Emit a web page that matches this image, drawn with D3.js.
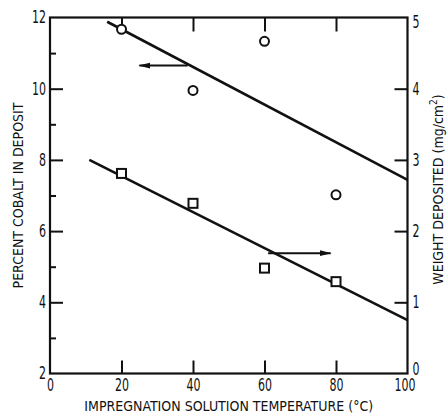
<!DOCTYPE html>
<html>
<head>
<meta charset="utf-8">
<script src="https://cdn.jsdelivr.net/npm/d3@7"></script>
<style>
  body { margin:0; background:#fff; }
  svg { display:block; }
  .axis text { font-family:"DejaVu Sans Condensed","Liberation Sans Narrow",sans-serif; font-size:17px; fill:#111;
               transform-box:fill-box; transform:scaleX(0.72); }
  .axis.left text { transform-origin:right center; }
  .axis.right text { transform-origin:left center; }
  .axis.bottom text { transform-origin:center center; }
  .axis path { display:none; }
  .axis line { stroke:#111; stroke-width:2; }
  .title { font-family:"DejaVu Sans Condensed","Liberation Sans Narrow",sans-serif; font-size:14px; fill:#111; }
</style>
</head>
<body>
<svg></svg>
<script>

// data
var temps = [20, 40, 60, 80];
var cobaltPct = [11.67, 9.95, 11.33, 7.02];   // circles, left axis
var weightDep = [2.81, 2.39, 1.48, 1.29];     // squares, right axis

var cobaltFitX = [16, 100];
var cobaltFitY = [11.88, 7.44];
var weightFitX = [11, 100];
var weightFitY = [3.0, 0.75];

// arrows: [x from, x to, y]
var cobaltArrow = [38.5, 25, 10.65];
var weightArrow = [61, 78.5, 1.69];

var xTicks = [0, 20, 40, 60, 80, 100];
var leftTicks = [2, 4, 6, 8, 10, 12];
var leftMinor = [3, 5, 7, 9, 11];
var rightTicks = [0, 1, 2, 3, 4, 5];

var screen = {width:448, height:417};
var margins = {top:17.5, left:50, bottom:43.5, right:40.5};
var width = screen.width - margins.left - margins.right;
var height = screen.height - margins.top - margins.bottom;

var svg = d3.select("svg").attr("width", screen.width).attr("height", screen.height);

var xScale = d3.scaleLinear().domain([0,100]).range([0,width]);
var yLeft = d3.scaleLinear().domain([2,12]).range([height,0]);
var yRight = d3.scaleLinear().domain([0,5]).range([height,0]);

var plot = svg.append("g")
  .attr("transform","translate("+margins.left+","+margins.top+")");

var defs = svg.append("defs");
defs.append("marker")
  .attr("id","head")
  .attr("viewBox","0 0 12 8")
  .attr("refX",11).attr("refY",4)
  .attr("markerWidth",12).attr("markerHeight",8)
  .attr("markerUnits","userSpaceOnUse")
  .attr("orient","auto")
  .append("path").attr("d","M0,1 L12,4 L0,7 Z").attr("fill","#111");

// axes
var bottomAxis = d3.axisBottom(xScale).tickValues(xTicks)
  .tickSizeInner(-13).tickSizeOuter(0).tickPadding(5).tickFormat(d3.format("d"));
var gB = plot.append("g").attr("class","axis bottom")
  .attr("transform","translate(0,"+height+")").call(bottomAxis);
gB.selectAll(".tick line").filter(function(d){ return d==0 || d==100; }).remove();
gB.selectAll(".tick text").filter(function(d){ return d==100; }).attr("dx",-3);

var topAxis = d3.axisTop(xScale).tickValues([20,40,60,80])
  .tickSizeInner(-14).tickSizeOuter(0).tickFormat("");
plot.append("g").attr("class","axis").call(topAxis);

var leftAxis = d3.axisLeft(yLeft).tickValues(leftTicks)
  .tickSizeInner(-13).tickSizeOuter(0).tickPadding(4).tickFormat(d3.format("d"));
var gL = plot.append("g").attr("class","axis left").call(leftAxis);
gL.selectAll(".tick line").filter(function(d){ return d==2 || d==12; }).remove();

var leftMinorAxis = d3.axisLeft(yLeft).tickValues(leftMinor)
  .tickSizeInner(-6).tickSizeOuter(0).tickFormat("");
plot.append("g").attr("class","axis").call(leftMinorAxis);

var rightAxis = d3.axisRight(yRight).tickValues(rightTicks)
  .tickSizeInner(-13).tickSizeOuter(0).tickPadding(5).tickFormat(d3.format("d"));
var gR = plot.append("g").attr("class","axis right")
  .attr("transform","translate("+width+",0)").call(rightAxis);
gR.selectAll(".tick line").filter(function(d){ return d==0 || d==5; }).remove();
gR.selectAll(".tick text").filter(function(d){ return d==5; }).attr("dy","0.6em");
gR.selectAll(".tick text").filter(function(d){ return d==0; }).attr("dy","0.05em");

// frame
plot.append("rect")
  .attr("x",0).attr("y",0).attr("width",width).attr("height",height)
  .attr("fill","none").attr("stroke","#111").attr("stroke-width",2.2);

// fitted lines
var lineL = d3.line().x(function(d){ return xScale(d[0]); }).y(function(d){ return yLeft(d[1]); });
var lineR = d3.line().x(function(d){ return xScale(d[0]); }).y(function(d){ return yRight(d[1]); });

plot.append("path")
  .datum(d3.zip(cobaltFitX, cobaltFitY))
  .attr("d", lineL).attr("fill","none").attr("stroke","#111").attr("stroke-width",2.6);

plot.append("path")
  .datum(d3.zip(weightFitX, weightFitY))
  .attr("d", lineR).attr("fill","none").attr("stroke","#111").attr("stroke-width",2.6);

// arrows
plot.append("line")
  .attr("x1",xScale(cobaltArrow[0])).attr("x2",xScale(cobaltArrow[1]))
  .attr("y1",yLeft(cobaltArrow[2])).attr("y2",yLeft(cobaltArrow[2]))
  .attr("stroke","#111").attr("stroke-width",2).attr("marker-end","url(#head)");

plot.append("line")
  .attr("x1",xScale(weightArrow[0])).attr("x2",xScale(weightArrow[1]))
  .attr("y1",yRight(weightArrow[2])).attr("y2",yRight(weightArrow[2]))
  .attr("stroke","#111").attr("stroke-width",2).attr("marker-end","url(#head)");

// markers
plot.selectAll("circle.pt")
  .data(d3.zip(temps, cobaltPct))
  .enter().append("circle").attr("class","pt")
  .attr("cx",function(d){ return xScale(d[0]); })
  .attr("cy",function(d){ return yLeft(d[1]); })
  .attr("r",4.5)
  .attr("fill","#fff").attr("stroke","#111").attr("stroke-width",2);

var sq = 9;
plot.selectAll("rect.pt")
  .data(d3.zip(temps, weightDep))
  .enter().append("rect").attr("class","pt")
  .attr("x",function(d){ return xScale(d[0]) - sq/2; })
  .attr("y",function(d){ return yRight(d[1]) - sq/2; })
  .attr("width",sq).attr("height",sq)
  .attr("fill","#fff").attr("stroke","#111").attr("stroke-width",2);

// titles
svg.append("text").attr("class","title")
  .attr("x", margins.left + width/2).attr("y", 411)
  .attr("text-anchor","middle")
  .text("IMPREGNATION SOLUTION TEMPERATURE (°C)");

svg.append("text").attr("class","title")
  .attr("transform","translate(23,"+(margins.top+height/2)+") rotate(-90)")
  .attr("text-anchor","middle")
  .text("PERCENT COBALT IN DEPOSIT");

var rt = svg.append("text").attr("class","title")
  .attr("transform","translate(443,"+(margins.top+height/2 - 6)+") rotate(-90)")
  .attr("text-anchor","middle");
rt.append("tspan").text("WEIGHT DEPOSITED (mg/cm");
rt.append("tspan").attr("dy",-6).attr("font-size","10px").text("2");
rt.append("tspan").attr("dy",6).text(")");

</script>
</body>
</html>
